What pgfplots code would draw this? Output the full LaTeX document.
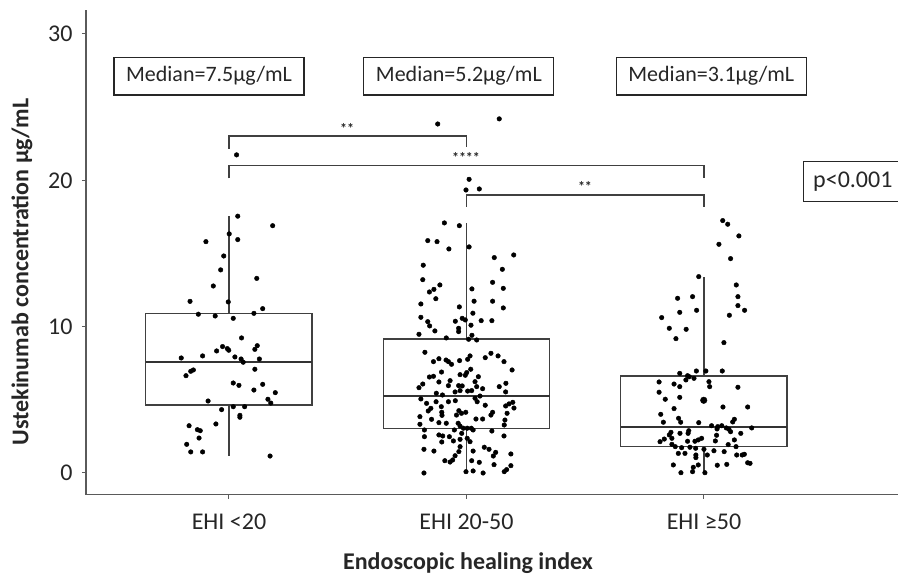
\documentclass[border=0pt]{standalone}
\usepackage{pgfplots}
\pgfplotsset{compat=1.18}
\usepgfplotslibrary{statistics}
\usepackage{fontspec}
\setmainfont{Carlito}
\definecolor{axgray}{HTML}{5A5A5A}
\definecolor{boxgray}{HTML}{404040}

\pgfplotstableread{
x y
1.032 21.74
1.037 17.55
1.184 16.9
1.001 16.34
1.037 15.95
0.903 15.81
0.978 14.83
0.965 13.88
1.117 13.3
0.934 12.78
0.836 11.73
0.997 11.69
1.142 11.23
0.871 10.85
0.942 10.73
1.018 10.57
1.105 10.91
1.053 9.23
0.973 8.64
0.948 8.34
0.993 8.5
0.999 8.39
1.109 8.45
1.119 8.7
0.799 7.86
0.889 8.0
1.025 7.93
1.051 7.79
1.06 7.57
1.128 7.79
0.85 7.04
0.839 6.95
0.819 6.65
1.109 7.09
1.018 6.15
1.042 5.99
1.142 6.06
1.105 5.67
1.195 5.49
1.164 5.04
1.176 4.78
0.912 4.92
1.018 4.53
1.066 4.53
0.969 4.33
1.046 3.94
1.046 3.81
0.945 3.35
0.832 3.23
0.867 2.96
0.879 2.89
0.874 2.39
0.822 1.96
0.839 1.44
0.889 1.44
1.173 1.16
}\groupA

\pgfplotstableread{
x y
1.879 23.85
2.138 24.2
2.011 20.07
1.998 19.34
2.054 19.41
1.907 17.09
1.970 16.9
1.837 15.88
1.876 15.81
1.926 15.31
2.011 15.45
2.199 14.9
2.117 14.72
1.818 14.2
2.151 13.92
1.816 13.21
1.888 12.85
1.863 12.55
1.844 12.37
2.11 13.03
2.155 12.62
1.871 11.91
2.023 12.58
2.032 11.74
2.11 11.74
1.808 11.55
2.155 11.28
1.97 11.35
2.027 10.92
1.808 10.64
1.982 10.57
1.995 10.46
1.837 10.34
1.845 10.05
1.953 10.37
2.062 10.41
2.107 10.41
2.019 10.1
1.967 9.89
1.967 9.66
1.867 9.71
1.8 9.48
1.915 9.23
2.023 9.41
2.009 9.14
2.043 9.09
1.825 8.25
1.861 7.61
1.884 7.81
1.914 7.72
1.924 7.61
1.937 7.43
1.971 7.68
2.005 7.77
2.015 8.0
2.079 7.88
2.103 8.18
2.133 8.0
2.158 7.61
2.192 7.04
1.844 6.56
1.861 6.61
1.895 6.9
1.931 6.31
1.924 5.97
1.973 6.72
1.995 6.68
2.001 6.86
2.018 7.09
2.05 6.58
2.036 6.24
1.816 6.08
1.8 5.83
1.884 6.22
1.967 5.97
1.982 5.95
2.043 5.9
2.068 5.76
2.138 5.9
2.166 6.13
1.873 5.45
1.899 5.33
1.952 5.54
1.973 5.63
2.005 5.6
2.022 5.63
2.057 5.26
2.165 5.54
1.808 5.06
1.832 4.76
1.85 4.42
1.839 4.24
1.872 4.87
1.894 4.53
1.896 4.15
1.897 3.94
1.924 4.87
1.953 4.94
1.968 4.26
1.979 4.08
1.958 3.96
1.997 4.15
2.036 5.11
2.045 4.87
2.079 4.63
2.04 3.69
2.068 3.69
2.11 4.15
2.103 3.96
2.165 4.58
2.179 4.72
2.195 4.83
2.2 4.44
2.171 4.08
1.804 3.85
1.853 3.67
1.884 3.44
1.915 3.4
1.965 3.4
1.973 3.21
1.987 3.06
2.003 3.06
2.02 3.06
2.028 2.94
2.162 3.62
2.159 3.28
1.804 3.33
1.823 2.94
1.949 2.94
2.107 2.87
1.823 2.48
1.884 2.6
1.9 2.53
1.928 2.48
1.98 2.71
1.973 2.3
1.896 2.12
1.945 2.19
2.003 2.37
2.015 2.14
2.158 2.53
1.821 1.62
1.863 1.5
1.973 1.8
1.968 1.46
2.028 1.5
2.075 1.76
2.095 1.62
2.123 1.41
2.113 1.16
2.187 1.3
1.952 1.18
1.942 0.89
1.931 0.75
1.909 0.84
2.022 0.84
2.054 0.73
2.116 0.57
2.169 0.23
2.187 0.5
2.159 0.09
1.821 0.0
1.998 0.09
2.028 0.14
2.07 0.0
}\groupB

\pgfplotstableread{
x y
3.079 17.25
3.1 17.0
3.147 16.2
3.063 15.63
3.112 14.65
2.978 13.42
3.136 12.85
2.889 11.94
2.952 12.05
3.143 12.05
3.143 11.44
3.171 11.12
2.898 10.98
2.969 11.12
3.107 10.78
2.822 10.62
2.854 9.89
2.925 9.82
2.882 9.18
3.084 8.91
2.898 6.81
2.931 6.65
2.968 6.97
3.008 6.97
3.077 6.97
2.938 6.58
2.924 6.36
2.958 6.47
2.811 6.22
2.874 6.08
2.898 5.9
3.021 6.24
3.024 5.9
3.143 5.86
2.811 5.52
2.837 5.04
2.898 5.17
2.874 4.4
3.08 4.51
3.184 4.51
2.818 4.01
2.893 3.74
2.902 3.47
2.829 3.47
2.978 3.44
3.128 3.67
3.121 3.49
3.032 3.23
3.058 3.17
3.075 3.23
3.094 3.08
3.201 3.08
2.936 2.89
2.933 2.71
2.861 2.78
2.854 2.6
2.865 2.37
2.899 2.71
3.055 3.01
3.053 2.58
3.105 2.99
3.112 2.82
3.155 2.71
2.833 2.32
2.815 2.14
2.931 2.17
2.962 2.17
2.976 2.26
2.99 2.37
3.048 2.19
3.128 2.26
3.135 1.8
2.865 1.96
2.879 1.8
2.906 1.73
3.102 1.94
2.941 1.76
2.965 1.69
3.0 1.62
3.042 1.52
3.085 1.46
2.892 1.34
2.92 1.34
2.966 1.23
2.966 1.05
3.014 1.23
3.138 1.23
3.161 1.23
3.17 1.28
3.184 0.7
3.194 0.66
2.871 0.55
2.976 0.55
2.955 0.39
3.056 0.53
3.096 0.59
2.903 0.02
2.952 0.09
3.004 0.02
}\groupC

\begin{document}
\begin{tikzpicture}[x=1pt,y=1pt]
\useasboundingbox (0,0) rectangle (898,579);
\begin{axis}[
  at={(86pt,84.3pt)}, anchor=south west,
  scale only axis, width=812pt, height=484.7pt,
  xmin=0.398, xmax=3.817, ymin=-1.483, ymax=31.64,
  axis lines=left,
  axis line style={axgray, line width=1.3pt, -},
  xtick={1,2,3},
  xticklabels={EHI <20, EHI 20-50, EHI ≥50},
  ytick={0,10,20,30},
  tick align=outside,
  major tick length=4pt,
  tick style={axgray, line width=1pt},
  ticklabel style={font=\fontsize{24}{28}\selectfont, text=black!85},
  xticklabel style={yshift=-12pt},
  yticklabel style={xshift=-6pt},
  /pgf/number format/assume math mode=true,
  clip=false,
  xlabel={Endoscopic healing index},
  ylabel={Ustekinumab concentration µg/mL},
  label style={font=\bfseries\fontsize{24}{28}\selectfont, text=black!85},
  xlabel style={at={(axis description cs:0.4704,-0.141)}, anchor=center},
  ylabel style={at={(axis description cs:-0.0788,0.4595)}, anchor=center},
  boxplot/draw direction=y,
  boxplot/box extend=0.70,
  boxplot/whisker extend=0,
]
\addplot[draw=boxgray, line width=1.3pt, mark=none,
  boxplot prepared={draw position=1, lower whisker=1.16, lower quartile=4.65,
    median=7.61, upper quartile=10.92, upper whisker=17.57},
  boxplot/every median/.style={line width=1.8pt, black!80}] coordinates {};
\addplot[draw=boxgray, line width=1.3pt, mark=none,
  boxplot prepared={draw position=2, lower whisker=0.0, lower quartile=3.05,
    median=5.26, upper quartile=9.16, upper whisker=17.11},
  boxplot/every median/.style={line width=1.8pt, black!80}] coordinates {};
\addplot[draw=boxgray, line width=1.3pt, mark=none,
  boxplot prepared={draw position=3, lower whisker=0.0, lower quartile=1.82,
    median=3.14, upper quartile=6.63, upper whisker=13.42},
  boxplot/every median/.style={line width=1.8pt, black!80}] coordinates {};

\addplot[only marks, mark=*, mark size=2.3pt, black] table[x=x,y=y] {\groupA};
\addplot[only marks, mark=*, mark size=2.3pt, black] table[x=x,y=y] {\groupB};
\addplot[only marks, mark=*, mark size=2.3pt, black] table[x=x,y=y] {\groupC};
\addplot[only marks, mark=*, mark size=3.3pt, black] coordinates {(2.999,4.97)};

% significance brackets
\draw[boxgray, line width=1.1pt] (axis cs:1,22.15) -- (axis cs:1,23.03) -- (axis cs:2,23.03) -- (axis cs:2,22.3);
\draw[boxgray, line width=1.1pt] (axis cs:1,20.14) -- (axis cs:1,21.03) -- (axis cs:3,21.03) -- (axis cs:3,20.14);
\draw[boxgray, line width=1.1pt] (axis cs:2,18.18) -- (axis cs:2,19.0) -- (axis cs:3,19.0) -- (axis cs:3,18.2);
\node[font=\bfseries\fontsize{14}{16}\selectfont, text=black!85] at (axis cs:1.497,23.55) {**};
\node[font=\bfseries\fontsize{14}{16}\selectfont, text=black!85] at (axis cs:1.998,21.55) {****};
\node[font=\bfseries\fontsize{14}{16}\selectfont, text=black!85] at (axis cs:2.499,19.55) {**};

% median annotation boxes
\node[draw=black!85, line width=1.1pt, minimum width=190pt, minimum height=37.7pt, inner sep=0pt,
  font=\fontsize{22}{26}\selectfont, text=black!85] at (axis cs:0.916,27.12) {Median=7.5µg/mL};
\node[draw=black!85, line width=1.1pt, minimum width=190pt, minimum height=37.7pt, inner sep=0pt,
  font=\fontsize{22}{26}\selectfont, text=black!85] at (axis cs:1.968,27.12) {Median=5.2µg/mL};
\node[draw=black!85, line width=1.1pt, minimum width=190pt, minimum height=37.7pt, inner sep=0pt,
  font=\fontsize{22}{26}\selectfont, text=black!85] at (axis cs:3.031,27.12) {Median=3.1µg/mL};

% p-value box
\node[draw=black!85, line width=1.1pt, anchor=west, minimum height=40pt, inner xsep=10pt,
  font=\fontsize{24}{28}\selectfont, text=black!85] at (axis cs:3.4156,19.91) {p<0.001};
\end{axis}
\end{tikzpicture}
\end{document}
